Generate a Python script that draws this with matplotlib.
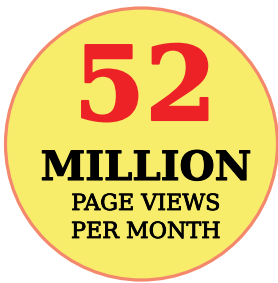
import matplotlib
matplotlib.use('Agg')
from matplotlib import pyplot as plt
from matplotlib.patches import Circle
import matplotlib.patheffects as pe

# badge content
big_number = "52"
unit = "MILLION"
caption = ["PAGE VIEWS", "PER MONTH"]

fill_color = '#F8EC6B'
ring_color = '#F4886C'
number_color = '#EC2227'
text_color = '#000000'

W, H = 278, 283
fig = plt.figure(figsize=(W / 100, H / 100), dpi=100)
ax = fig.add_axes([0, 0, 1, 1])
ax.set_xlim(0, W)
ax.set_ylim(H, 0)
ax.axis('off')

ax.add_patch(Circle((141.5, 144), 136, facecolor=fill_color, edgecolor=ring_color, linewidth=2.3))

# heavier strokes to mimic the slab serif face
ax.text(145, 120, big_number, color=number_color, fontsize=74, fontweight='bold',
        family='DejaVu Serif', ha='center', va='baseline',
        path_effects=[pe.withStroke(linewidth=1.5, foreground=number_color)])
ax.text(146, 180, unit, color=text_color, fontsize=29, fontweight='bold',
        family='DejaVu Serif', ha='center', va='baseline',
        path_effects=[pe.withStroke(linewidth=0.8, foreground=text_color)])
for line, y in zip(caption, [210, 238]):
    ax.text(146, y, line, color=text_color, fontsize=16,
            family='DejaVu Serif', ha='center', va='baseline',
            path_effects=[pe.withStroke(linewidth=0.6, foreground=text_color)])

fig.savefig('out.png', dpi=100)
